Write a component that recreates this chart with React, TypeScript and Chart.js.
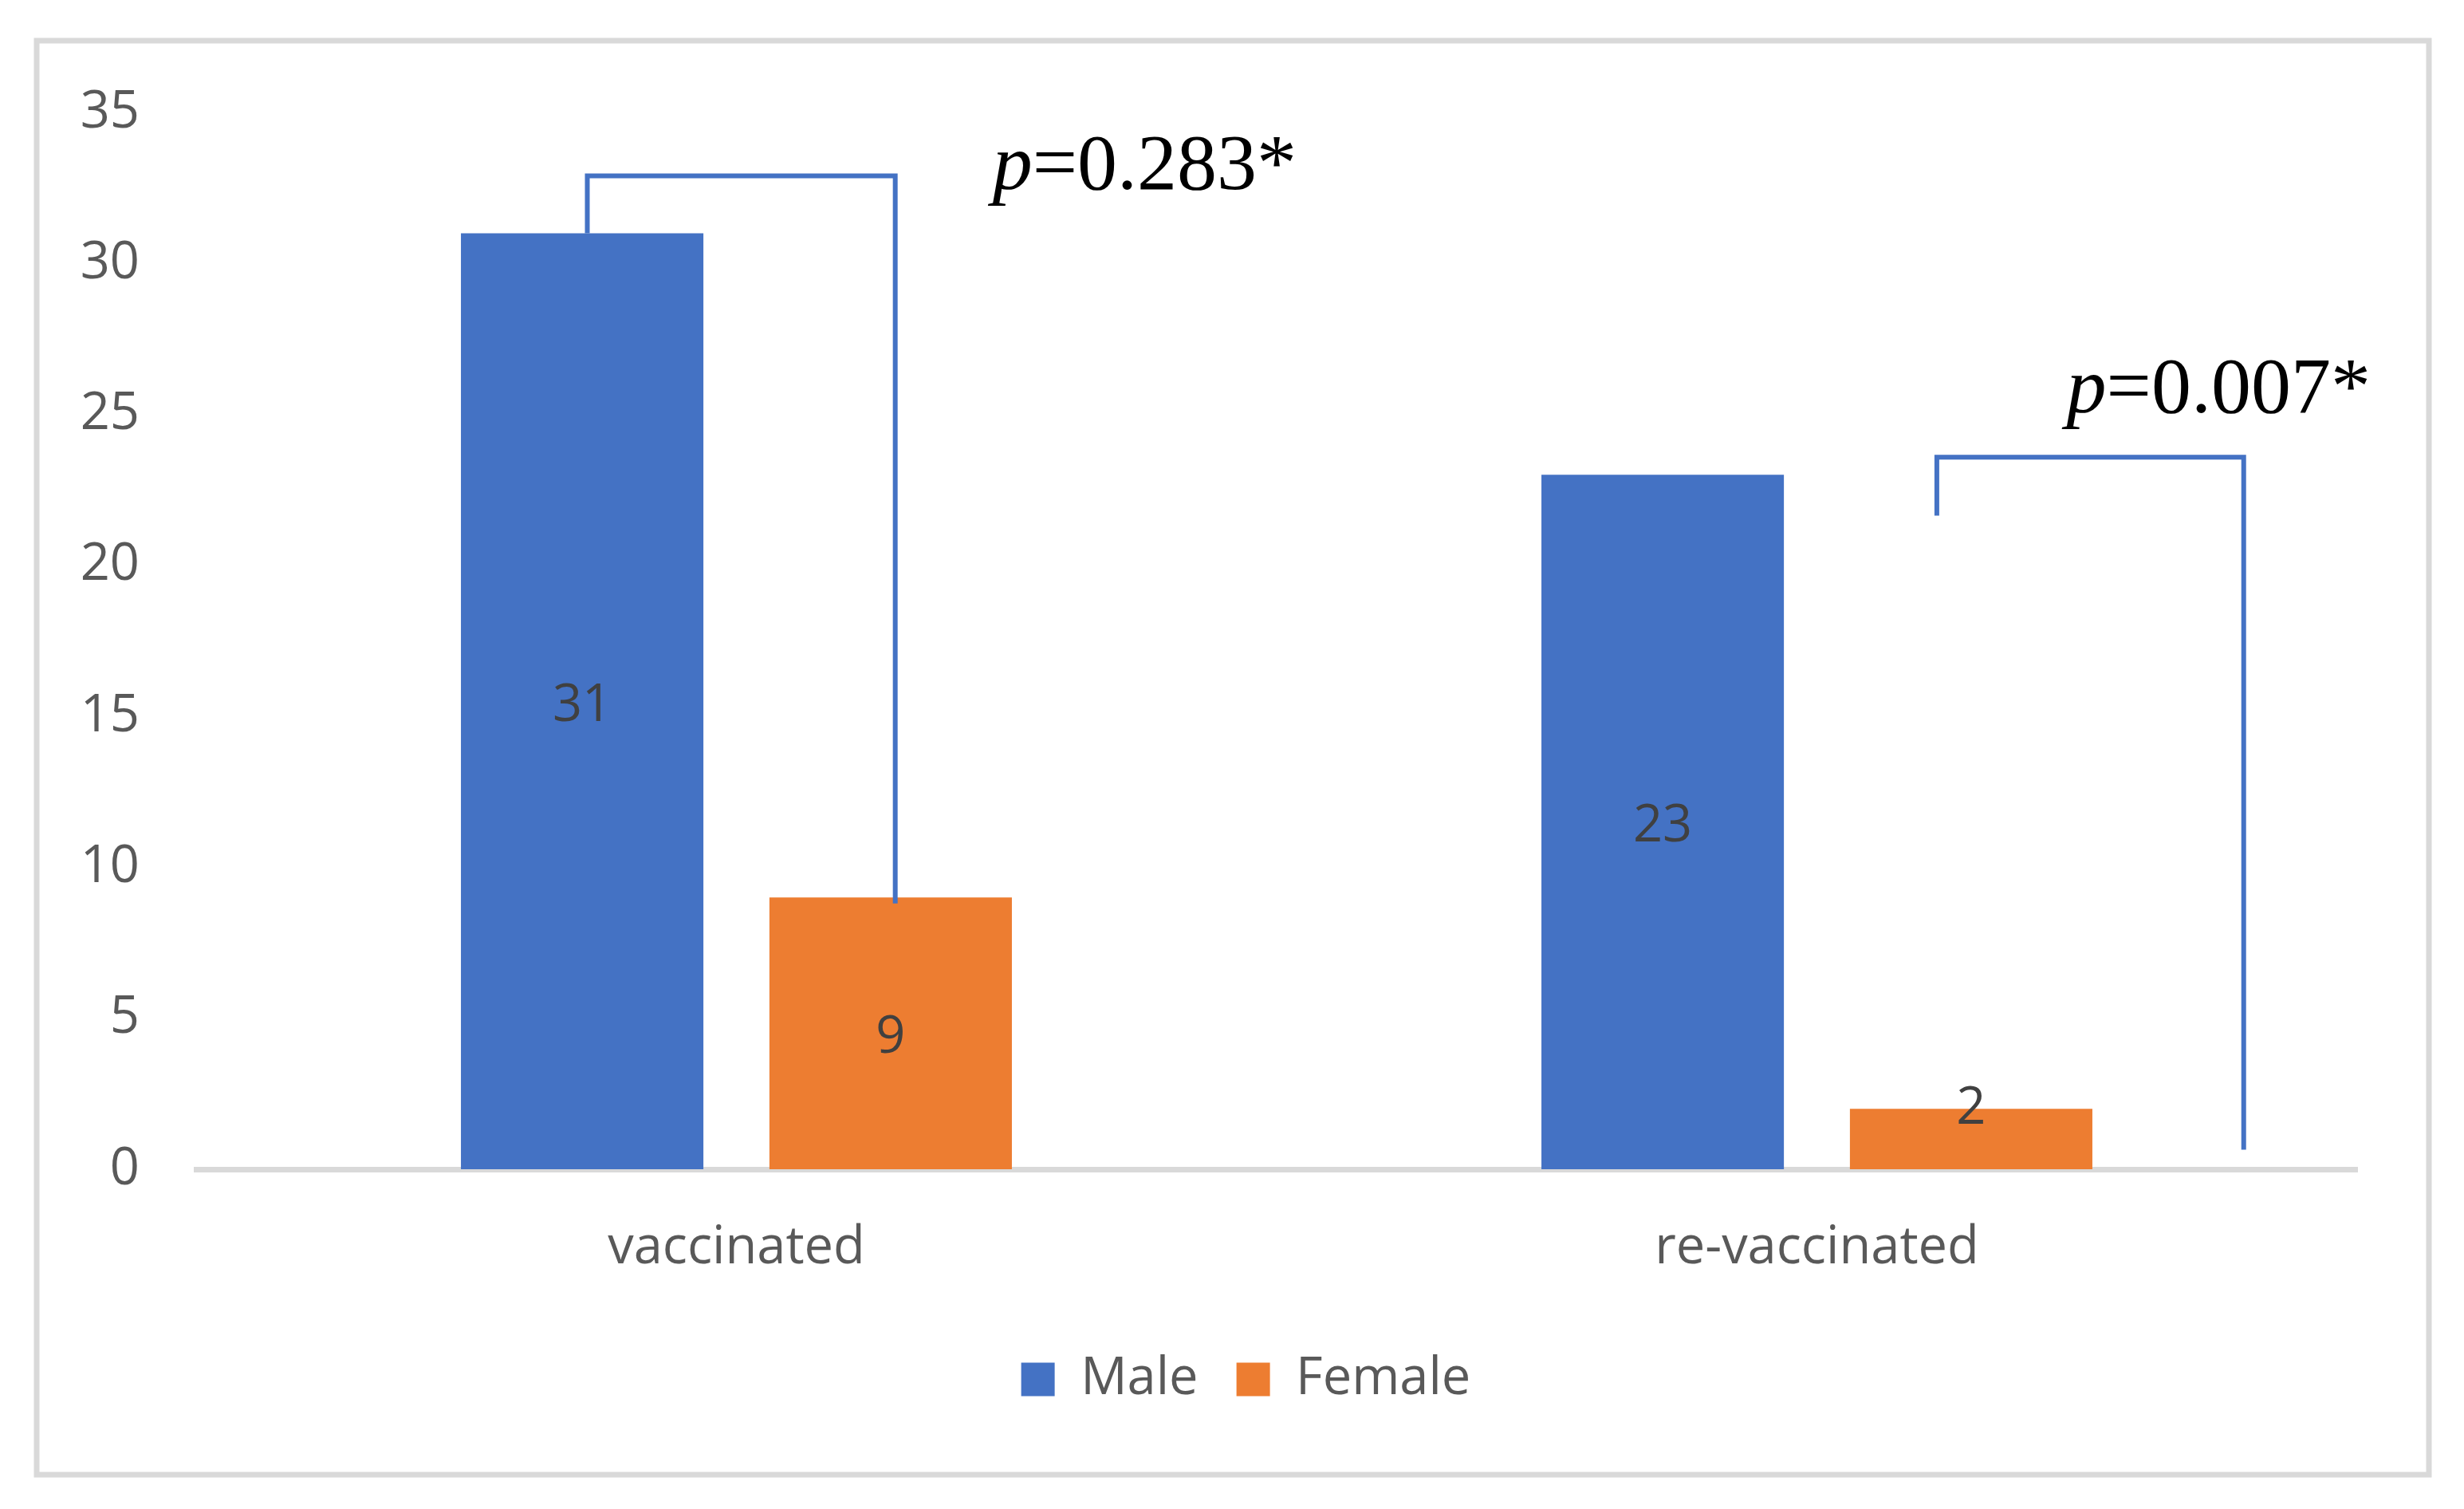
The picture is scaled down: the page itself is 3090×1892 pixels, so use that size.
import React, { useEffect, useRef } from 'react';
import { Chart, registerables, Plugin } from 'chart.js';

Chart.register(...registerables);

const categories = ['vaccinated', 're-vaccinated'];
const maleCounts = [31, 23];
const femaleCounts = [9, 2];
const seriesNames = ['Male', 'Female'];
const seriesColors = ['#4472C4', '#ED7D31'];
const yMax = 35;
const yStep = 5;

const pValues = ['0.283*', '0.007*'];
// brackets in axis units (x = category index, y = count)
const brackets = [
    { x1: -0.138, x2: 0.147, top: 32.9, left: 31, right: 8.8 },
    { x1: 1.111, x2: 1.395, top: 23.58, left: 21.65, right: 0.65 },
];
const pLabelPos = [
    { x: 0.237, y: 32.46 },
    { x: 1.231, y: 25.06 },
];

const textColor = '#595959';
const fontSize = 65;

const framePlugin: Plugin = {
    id: 'frame',
    beforeDraw(chart) {
        const { ctx, width, height } = chart;
        ctx.save();
        ctx.fillStyle = '#ffffff';
        ctx.fillRect(0, 0, width, height);
        ctx.strokeStyle = '#D9D9D9';
        ctx.lineWidth = 7;
        ctx.strokeRect(46, 51, 3000, 1798);
        ctx.restore();
    },
};

// nudge the legend so it sits where the original one does
const legendShiftPlugin: Plugin = {
    id: 'legendShift',
    afterLayout(chart) {
        const lg: any = chart.legend;
        if (lg) {
            lg.left += 34;
            lg.right += 34;
        }
    },
};

const barLabelPlugin: Plugin = {
    id: 'barLabels',
    afterDatasetsDraw(chart) {
        const { ctx } = chart;
        ctx.save();
        ctx.fillStyle = '#404040';
        ctx.font = `${fontSize}px "Open Sans"`;
        ctx.textAlign = 'center';
        ctx.textBaseline = 'middle';
        chart.data.datasets.forEach((ds, i) => {
            const meta = chart.getDatasetMeta(i);
            meta.data.forEach((bar: any, j) => {
                const v = ds.data[j] as number;
                const h = bar.base - bar.y;
                // short bars get their label at the top edge
                const y = h < fontSize * 2 ? bar.y : (bar.y + bar.base) / 2 + 6;
                ctx.fillText(String(v), bar.x, y);
            });
        });
        ctx.restore();
    },
};

const significancePlugin: Plugin = {
    id: 'significance',
    afterDatasetsDraw(chart) {
        const { ctx } = chart;
        const xs = chart.scales.x;
        const ys = chart.scales.y;
        ctx.save();
        ctx.strokeStyle = '#4472C4';
        ctx.lineWidth = 6;
        ctx.lineJoin = 'miter';
        ctx.lineCap = 'butt';
        brackets.forEach((b) => {
            const x1 = xs.getPixelForValue(b.x1);
            const x2 = xs.getPixelForValue(b.x2);
            const top = ys.getPixelForValue(b.top);
            ctx.beginPath();
            ctx.moveTo(x1, ys.getPixelForValue(b.left));
            ctx.lineTo(x1, top);
            ctx.lineTo(x2, top);
            ctx.lineTo(x2, ys.getPixelForValue(b.right));
            ctx.stroke();
        });

        ctx.fillStyle = '#000000';
        ctx.textAlign = 'left';
        ctx.textBaseline = 'alphabetic';
        pValues.forEach((p, i) => {
            const px = xs.getPixelForValue(pLabelPos[i].x);
            const py = ys.getPixelForValue(pLabelPos[i].y);
            ctx.font = 'italic 100px "Liberation Serif"';
            ctx.fillText('p', px, py);
            const w = ctx.measureText('p').width;
            ctx.font = '100px "Liberation Serif"';
            ctx.fillText('=' + p, px + w, py);
        });
        ctx.restore();
    },
};

const App: React.FC = () => {
    const canvasRef = useRef<HTMLCanvasElement | null>(null);
    const chartRef = useRef<Chart | null>(null);

    useEffect(() => {
        if (!canvasRef.current) return;
        const ctx = canvasRef.current.getContext('2d');
        if (!ctx) return;
        if (chartRef.current) chartRef.current.destroy();

        Chart.defaults.font.family = '"Open Sans", sans-serif';

        chartRef.current = new Chart(ctx, {
            type: 'bar',
            data: {
                labels: categories,
                datasets: [
                    {
                        label: seriesNames[0],
                        data: maleCounts,
                        backgroundColor: seriesColors[0],
                        categoryPercentage: 0.571,
                        barPercentage: 0.786,
                    },
                    {
                        label: seriesNames[1],
                        data: femaleCounts,
                        backgroundColor: seriesColors[1],
                        categoryPercentage: 0.571,
                        barPercentage: 0.786,
                    },
                ],
            },
            options: {
                responsive: false,
                animation: false,
                devicePixelRatio: 1,
                layout: { padding: { left: 101, right: 134, top: 141, bottom: 120 } },
                plugins: {
                    legend: {
                        position: 'bottom',
                        labels: {
                            boxWidth: 42,
                            boxHeight: 42,
                            padding: 48,
                            color: textColor,
                            font: { size: fontSize },
                        },
                    },
                    tooltip: { enabled: false },
                },
                scales: {
                    x: {
                        grid: { display: false },
                        border: { display: true, color: '#D9D9D9', width: 7 },
                        ticks: { color: textColor, font: { size: fontSize }, padding: 52 },
                        afterFit: (scale: any) => {
                            scale.height = 183;
                        },
                    },
                    y: {
                        min: 0,
                        max: yMax,
                        grid: { display: false, drawTicks: false },
                        border: { display: false },
                        ticks: { stepSize: yStep, color: textColor, font: { size: fontSize }, padding: 71 },
                        afterFit: (scale: any) => {
                            scale.width = 145;
                        },
                    },
                },
            },
            plugins: [framePlugin, legendShiftPlugin, barLabelPlugin, significancePlugin],
        });

        return () => {
            if (chartRef.current) {
                chartRef.current.destroy();
                chartRef.current = null;
            }
        };
    }, []);

    return (
        <div style={{ position: 'absolute', left: 0, top: 0, width: 3090, height: 1892, background: '#fff' }}>
            <canvas ref={canvasRef} width={3090} height={1892} style={{ display: 'block' }}></canvas>
        </div>
    );
};

export default App;
